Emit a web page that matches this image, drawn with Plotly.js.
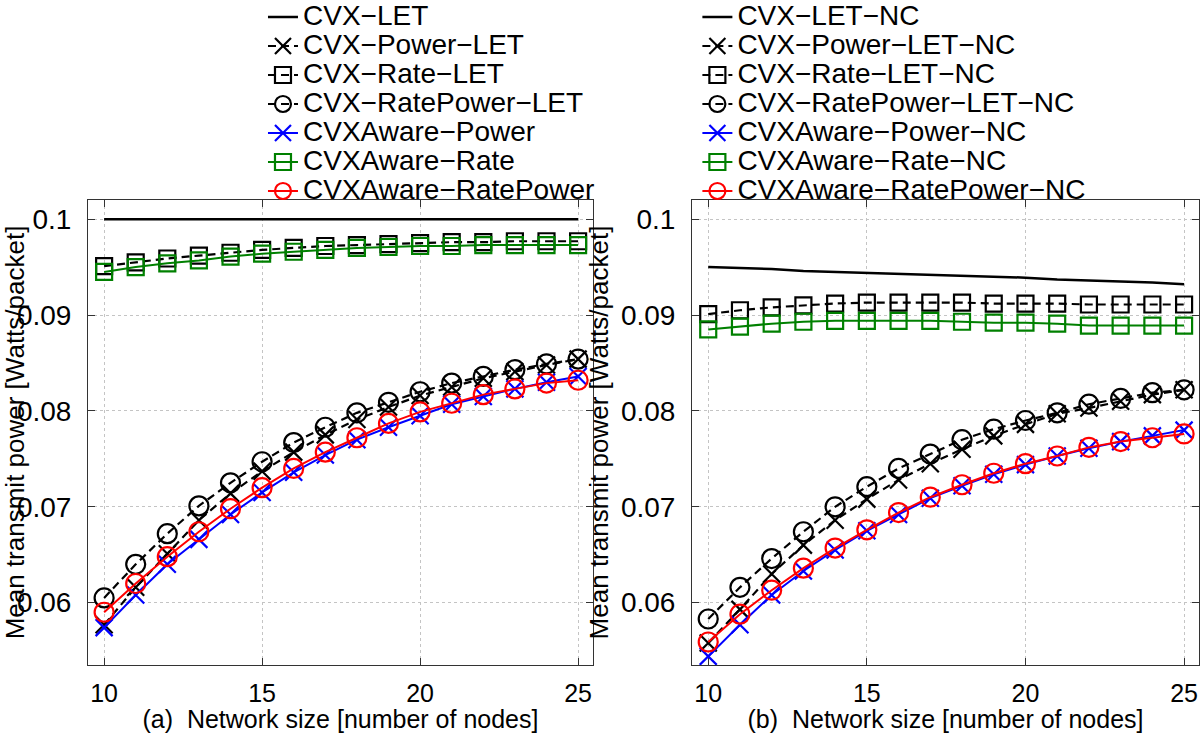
<!DOCTYPE html>
<html>
<head>
<meta charset="utf-8">
<script src="https://cdn.plot.ly/plotly-3.0.1.min.js"></script>
<style>html,body{margin:0;padding:0;background:#fff}#chart{width:1200px;height:733px}</style>
</head>
<body>
<div id="chart"></div>
<script>
// Network size (number of nodes)
const nodes = [10, 11, 12, 13, 14, 15, 16, 17, 18, 19, 20, 21, 22, 23, 24, 25];

// (a) panel series
const cvxLet          = [0.1, 0.1, 0.1, 0.1, 0.1, 0.1, 0.1, 0.1, 0.1, 0.1, 0.1, 0.1, 0.1, 0.1, 0.1, 0.1];
const cvxPowerLet     = [0.0577, 0.0616, 0.0651, 0.0686, 0.0714, 0.0737, 0.0757, 0.0775, 0.0791, 0.0804, 0.0816, 0.0825, 0.0834, 0.0841, 0.0848, 0.0854];
const cvxRateLet      = [0.0951, 0.0955, 0.0959, 0.0962, 0.0965, 0.0968, 0.0970, 0.0972, 0.0973, 0.0974, 0.0975, 0.0976, 0.0976, 0.0977, 0.0977, 0.0977];
const cvxRatePowerLet = [0.0605, 0.0640, 0.0672, 0.0701, 0.0725, 0.0747, 0.0767, 0.0783, 0.0798, 0.0809, 0.0820, 0.0829, 0.0836, 0.0843, 0.0849, 0.0854];
const awarePower      = [0.0574, 0.0608, 0.0640, 0.0666, 0.0692, 0.0715, 0.0736, 0.0754, 0.0770, 0.0783, 0.0795, 0.0807, 0.0815, 0.0823, 0.0830, 0.0836];
const awareRate       = [0.0945, 0.0950, 0.0954, 0.0957, 0.0961, 0.0964, 0.0966, 0.0968, 0.0970, 0.0971, 0.0972, 0.0972, 0.0973, 0.0973, 0.0973, 0.0973];
const awareRatePower  = [0.0590, 0.0620, 0.0648, 0.0674, 0.0698, 0.0720, 0.0740, 0.0757, 0.0772, 0.0787, 0.0799, 0.0808, 0.0817, 0.0823, 0.0829, 0.0832];

// (b) panel series (NC)
const cvxLetNC          = [0.0950, 0.0949, 0.0948, 0.0946, 0.0945, 0.0944, 0.0943, 0.0942, 0.0941, 0.0940, 0.0939, 0.0937, 0.0936, 0.0935, 0.0934, 0.0932];
const cvxPowerLetNC     = [0.0558, 0.0593, 0.0630, 0.0660, 0.0686, 0.0708, 0.0728, 0.0745, 0.0760, 0.0774, 0.0786, 0.0797, 0.0803, 0.0810, 0.0817, 0.0822];
const cvxRateLetNC      = [0.0901, 0.0905, 0.0908, 0.0910, 0.0912, 0.0913, 0.0913, 0.0913, 0.0913, 0.0912, 0.0912, 0.0912, 0.0911, 0.0911, 0.0911, 0.0911];
const cvxRatePowerLetNC = [0.0583, 0.0616, 0.0646, 0.0674, 0.0700, 0.0721, 0.0740, 0.0755, 0.0770, 0.0781, 0.0790, 0.0798, 0.0807, 0.0813, 0.0819, 0.0822];
const awarePowerNC      = [0.0544, 0.0577, 0.0608, 0.0633, 0.0655, 0.0675, 0.0692, 0.0709, 0.0722, 0.0734, 0.0744, 0.0753, 0.0761, 0.0768, 0.0774, 0.0780];
const awareRateNC       = [0.0885, 0.0888, 0.0891, 0.0893, 0.0894, 0.0894, 0.0894, 0.0894, 0.0893, 0.0892, 0.0892, 0.0891, 0.0889, 0.0889, 0.0889, 0.0889];
const awareRatePowerNC  = [0.0559, 0.0588, 0.0613, 0.0636, 0.0657, 0.0676, 0.0694, 0.0710, 0.0723, 0.0735, 0.0745, 0.0753, 0.0762, 0.0768, 0.0772, 0.0776];

const namesA = ["CVX−LET", "CVX−Power−LET", "CVX−Rate−LET", "CVX−RatePower−LET", "CVXAware−Power", "CVXAware−Rate", "CVXAware−RatePower"];
const namesB = ["CVX−LET−NC", "CVX−Power−LET−NC", "CVX−Rate−LET−NC", "CVX−RatePower−LET−NC", "CVXAware−Power−NC", "CVXAware−Rate−NC", "CVXAware−RatePower−NC"];
const xTitles = ["(a)\u00a0\u00a0Network size [number of nodes]", "(b)\u00a0\u00a0Network size [number of nodes]"];
const yTitle = "Mean transmit power [Watts/packet]";

const DASH = "8px,5px";
const styles = [
  {color: "#000000", dash: "solid", symbol: null, width: 2.5},
  {color: "#000000", dash: DASH, symbol: "x-thin-open", size: 17, width: 2.2},
  {color: "#000000", dash: DASH, symbol: "square-open", size: 16, width: 2.2},
  {color: "#000000", dash: DASH, symbol: "circle-open", size: 19, width: 2.2},
  {color: "#0000ff", dash: "solid", symbol: "x-thin-open", size: 17, width: 2},
  {color: "#008000", dash: "solid", symbol: "square-open", size: 16, width: 2},
  {color: "#ff0000", dash: "solid", symbol: "circle-open", size: 19, width: 2}
];

function mk(y, name, st, xa, ya, leg) {
  const t = {
    x: nodes, y: y, type: "scatter", xaxis: xa, yaxis: ya, legend: leg,
    name: '<span style="font-size:28px">' + name + '</span>',
    mode: st.symbol ? "lines+markers" : "lines",
    line: {color: st.color, dash: st.dash, width: st.width}
  };
  if (st.symbol) t.marker = {symbol: st.symbol, size: st.size, color: st.color, line: {color: st.color, width: 2.2}};
  return t;
}

const seriesA = [cvxLet, cvxPowerLet, cvxRateLet, cvxRatePowerLet, awarePower, awareRate, awareRatePower];
const seriesB = [cvxLetNC, cvxPowerLetNC, cvxRateLetNC, cvxRatePowerLetNC, awarePowerNC, awareRateNC, awareRatePowerNC];
const data = [];
seriesA.forEach((s, i) => data.push(mk(s, namesA[i], styles[i], "x", "y", "legend")));
seriesB.forEach((s, i) => data.push(mk(s, namesB[i], styles[i], "x2", "y2", "legend2")));

const sans = "Liberation Sans, Arial, Helvetica, sans-serif";

function xax(dom, title) {
  return {
    domain: dom, range: [9.49, 25.47], tickvals: [10, 15, 20, 25],
    ticks: "inside", ticklen: 7, tickcolor: "#333", showline: true, linecolor: "#333", linewidth: 1, mirror: "ticks",
    showgrid: true, gridcolor: "#c4c4c4", griddash: "dot", gridwidth: 1, zeroline: false,
    tickfont: {family: sans, size: 25, color: "#000"}, ticklabelstandoff: 6, ticklabeloverflow: "allow",
    automargin: true,
    title: {text: title, font: {family: sans, size: 25, color: "#000"}, standoff: 3}
  };
}
function yax(anchor) {
  return {
    anchor: anchor, domain: [0, 1], range: [0.0535, 0.102], tick0: 0, dtick: 0.01,
    ticks: "inside", ticklen: 7, tickcolor: "#333", showline: true, linecolor: "#333", linewidth: 1, mirror: "ticks",
    showgrid: true, gridcolor: "#c4c4c4", griddash: "dot", gridwidth: 1, zeroline: false,
    tickfont: {family: sans, size: 28, color: "#000"}, ticklabelstandoff: 10, ticklabeloverflow: "allow",
    title: {text: yTitle, font: {family: sans, size: 26, color: "#000"}, standoff: 4}
  };
}

const legendBase = {
  font: {family: sans, size: 20, color: "#000"}, bgcolor: "rgba(255,255,255,0)", borderwidth: 0,
  xanchor: "left", yanchor: "top", tracegroupgap: 0, itemwidth: 30
};

const layout = {
  width: 1200, height: 733,
  margin: {l: 88, r: 1, t: 200, b: 68, autoexpand: false},
  paper_bgcolor: "#fff", plot_bgcolor: "#fff",
  showlegend: true,
  xaxis: Object.assign(xax([0, 0.4545], xTitles[0]), {anchor: "y"}),
  yaxis: yax("x"),
  xaxis2: Object.assign(xax([0.5437, 1], xTitles[1]), {anchor: "y2"}),
  yaxis2: yax("x2"),
  legend: Object.assign({}, legendBase, {x: 0.1575, y: 1.4355}),
  legend2: Object.assign({}, legendBase, {x: 0.5485, y: 1.4355})
};

Plotly.newPlot("chart", data, layout, {displayModeBar: false, staticPlot: true});
</script>
</body>
</html>
